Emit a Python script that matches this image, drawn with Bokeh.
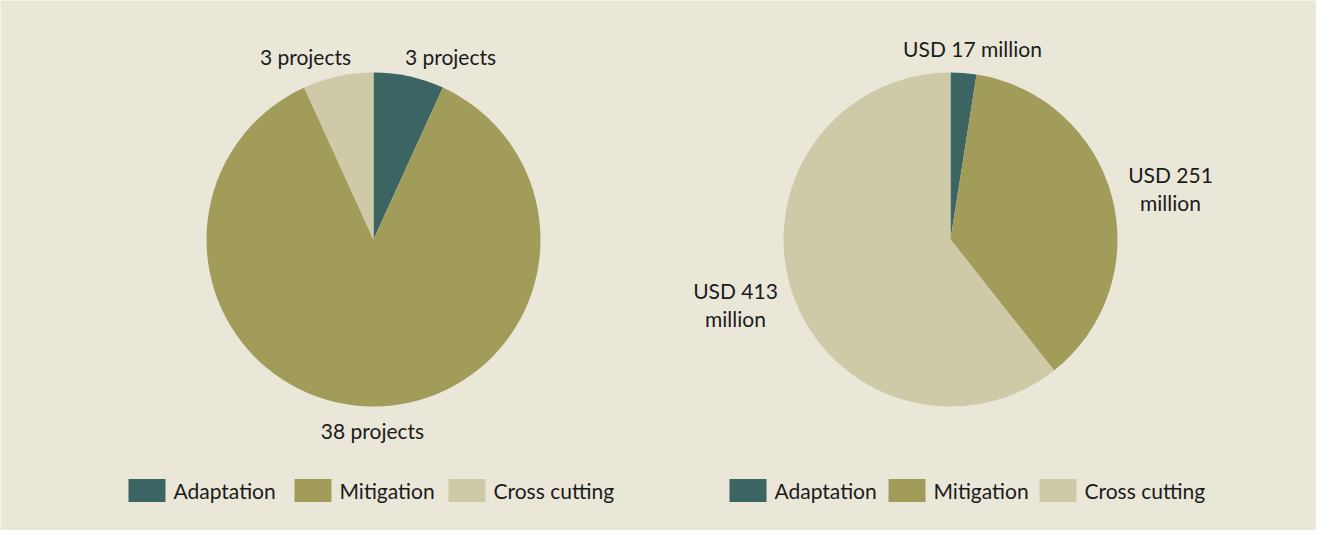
import math
from bokeh.plotting import figure
from bokeh.models import Range1d
from bokeh.core.properties import value
from bokeh.embed import file_html
from bokeh.resources import INLINE

# ---- data ----
categories = ["Adaptation", "Mitigation", "Cross cutting"]
colors = ["#3B6463", "#A29C5B", "#CEC9A7"]
projects = [3, 38, 3]
project_labels = ["3 projects", "38 projects", "3 projects"]
funding = [17, 251, 413]
funding_labels = ["USD 17 million", "USD 251\nmillion", "USD 413\nmillion"]

# ---- layout (image pixel coords) ----
W, H = 1316, 530
OX, OY = 8, 8
BG = "#EAE7D9"
TXT = "#1B1B1B"
FONT = "Lato"
FS = "21px"
R = 167

def Y(y):
    return OY + H - y

p = figure(width=W, height=H, output_backend="svg", toolbar_location=None,
           x_range=Range1d(OX, OX + W), y_range=Range1d(0, H),
           x_axis_location=None, y_axis_location=None, min_border=0)
p.grid.visible = False
p.outline_line_color = None
p.background_fill_color = BG
p.border_fill_color = BG

def pie(cx, cy, vals):
    tot = sum(vals)
    acc = 0
    for v, c in zip(vals, colors):
        a0 = acc / tot * 2 * math.pi
        acc += v
        a1 = acc / tot * 2 * math.pi
        p.wedge(x=[cx], y=[Y(cy)], radius=R, radius_units="screen",
                start_angle=math.pi / 2 - a0, end_angle=math.pi / 2 - a1,
                direction="clock", fill_color=c, line_color=None)

pie(381, 247, projects)
pie(958, 247, funding)

# labels (offset positions are layout)
p1_pos = [(458, 64), (380, 438), (313, 64)]
p2_pos = [(980, 56), (1178, 196), (743, 312)]

for (x, y), t in zip(p1_pos, project_labels):
    p.text(x=[x], y=[Y(y)], text=[t], text_align="center", text_baseline="middle",
           text_font=value(FONT), text_font_size=FS, text_color=TXT)
for (x, y), t in zip(p2_pos, funding_labels):
    p.text(x=[x], y=[Y(y)], text=[t], text_align="center", text_baseline="middle",
           text_font=value(FONT), text_font_size=FS, text_color=TXT,
           text_line_height=1.15)

# legends
leg_y = 498
leg1_x = [136, 302, 456]
leg2_x = [737, 896, 1047]
for xs in (leg1_x, leg2_x):
    for x, c, cat in zip(xs, colors, categories):
        p.rect(x=[x + 18.5], y=[Y(leg_y)], width=37, height=23,
               width_units="screen", height_units="screen",
               fill_color=c, line_color=None)
        p.text(x=[x + 45], y=[Y(leg_y)], text=[cat], text_align="left",
               text_baseline="middle", text_font=value(FONT), text_font_size=FS,
               text_color=TXT)

open("out.html", "w").write(file_html(p, INLINE))
